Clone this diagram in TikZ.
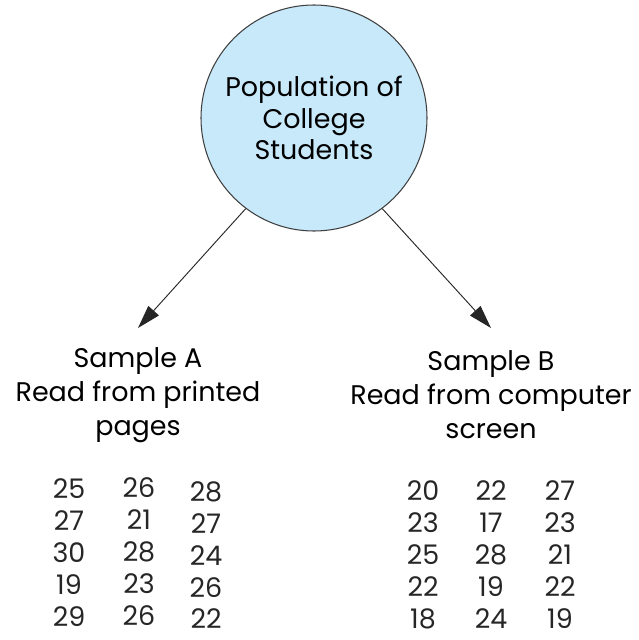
\documentclass[tikz,border=0pt]{standalone}
\usepackage{fontspec}
\setmainfont{Poppins}
\usetikzlibrary{arrows.meta,positioning}
\definecolor{popblue}{RGB}{200,233,249}

\begin{document}
\begin{tikzpicture}[
    x=0.03cm, y=-0.03cm,
    pop/.style={circle, draw=black!75, line width=0.9pt, fill=popblue, minimum size=6.78cm, inner sep=0pt, align=center, font=\fontsize{23}{27}\selectfont},
    label/.style={align=center, font=\fontsize{23}{29}\selectfont},
    num/.style={font=\fontsize{23}{27}\selectfont, text=black!85, inner sep=0pt},
    arrow/.style={-{Triangle[length=0.7cm, width=0.42cm]}, line width=0.8pt, draw=black!85}
]
\useasboundingbox (0,0) rectangle (638,640);

% Population
\node[pop] (pop) at (314,118) {Population of\\College\\Students};

% arrow tips
\coordinate (tipA) at (138,328);
\coordinate (tipB) at (491,328);
\draw[arrow] (pop.-127) -- (tipA);
\draw[arrow] (pop.-53) -- (tipB);

% Sample labels
\node[label] (labA) at (138,395) {Sample A\\Read from printed\\pages};
\node[label] (labB) at (491,395) {Sample B\\Read from computer\\screen};

% Sample A data
\node[num] (a11) at (69,489) {25}; \node[num] (a12) at (139,488) {26}; \node[num] (a13) at (206,492) {28};
\node[num] (a21) at (69,521) {27}; \node[num] (a22) at (139,520) {21}; \node[num] (a23) at (206,524) {27};
\node[num] (a31) at (69,553) {30}; \node[num] (a32) at (139,552) {28}; \node[num] (a33) at (206,556) {24};
\node[num] (a41) at (69,585) {19}; \node[num] (a42) at (139,584) {23}; \node[num] (a43) at (206,588) {26};
\node[num] (a51) at (69,617) {29}; \node[num] (a52) at (139,616) {26}; \node[num] (a53) at (206,619) {22};

% Sample B data
\node[num] (b11) at (423,491) {20}; \node[num] (b12) at (491,491) {22}; \node[num] (b13) at (560,491) {27};
\node[num] (b21) at (423,523) {23}; \node[num] (b22) at (491,523) {17}; \node[num] (b23) at (560,523) {23};
\node[num] (b31) at (423,555) {25}; \node[num] (b32) at (491,555) {28}; \node[num] (b33) at (560,555) {21};
\node[num] (b41) at (423,587) {22}; \node[num] (b42) at (491,587) {19}; \node[num] (b43) at (560,587) {22};
\node[num] (b51) at (423,619) {18}; \node[num] (b52) at (491,619) {24}; \node[num] (b53) at (560,619) {19};

\end{tikzpicture}
\end{document}
